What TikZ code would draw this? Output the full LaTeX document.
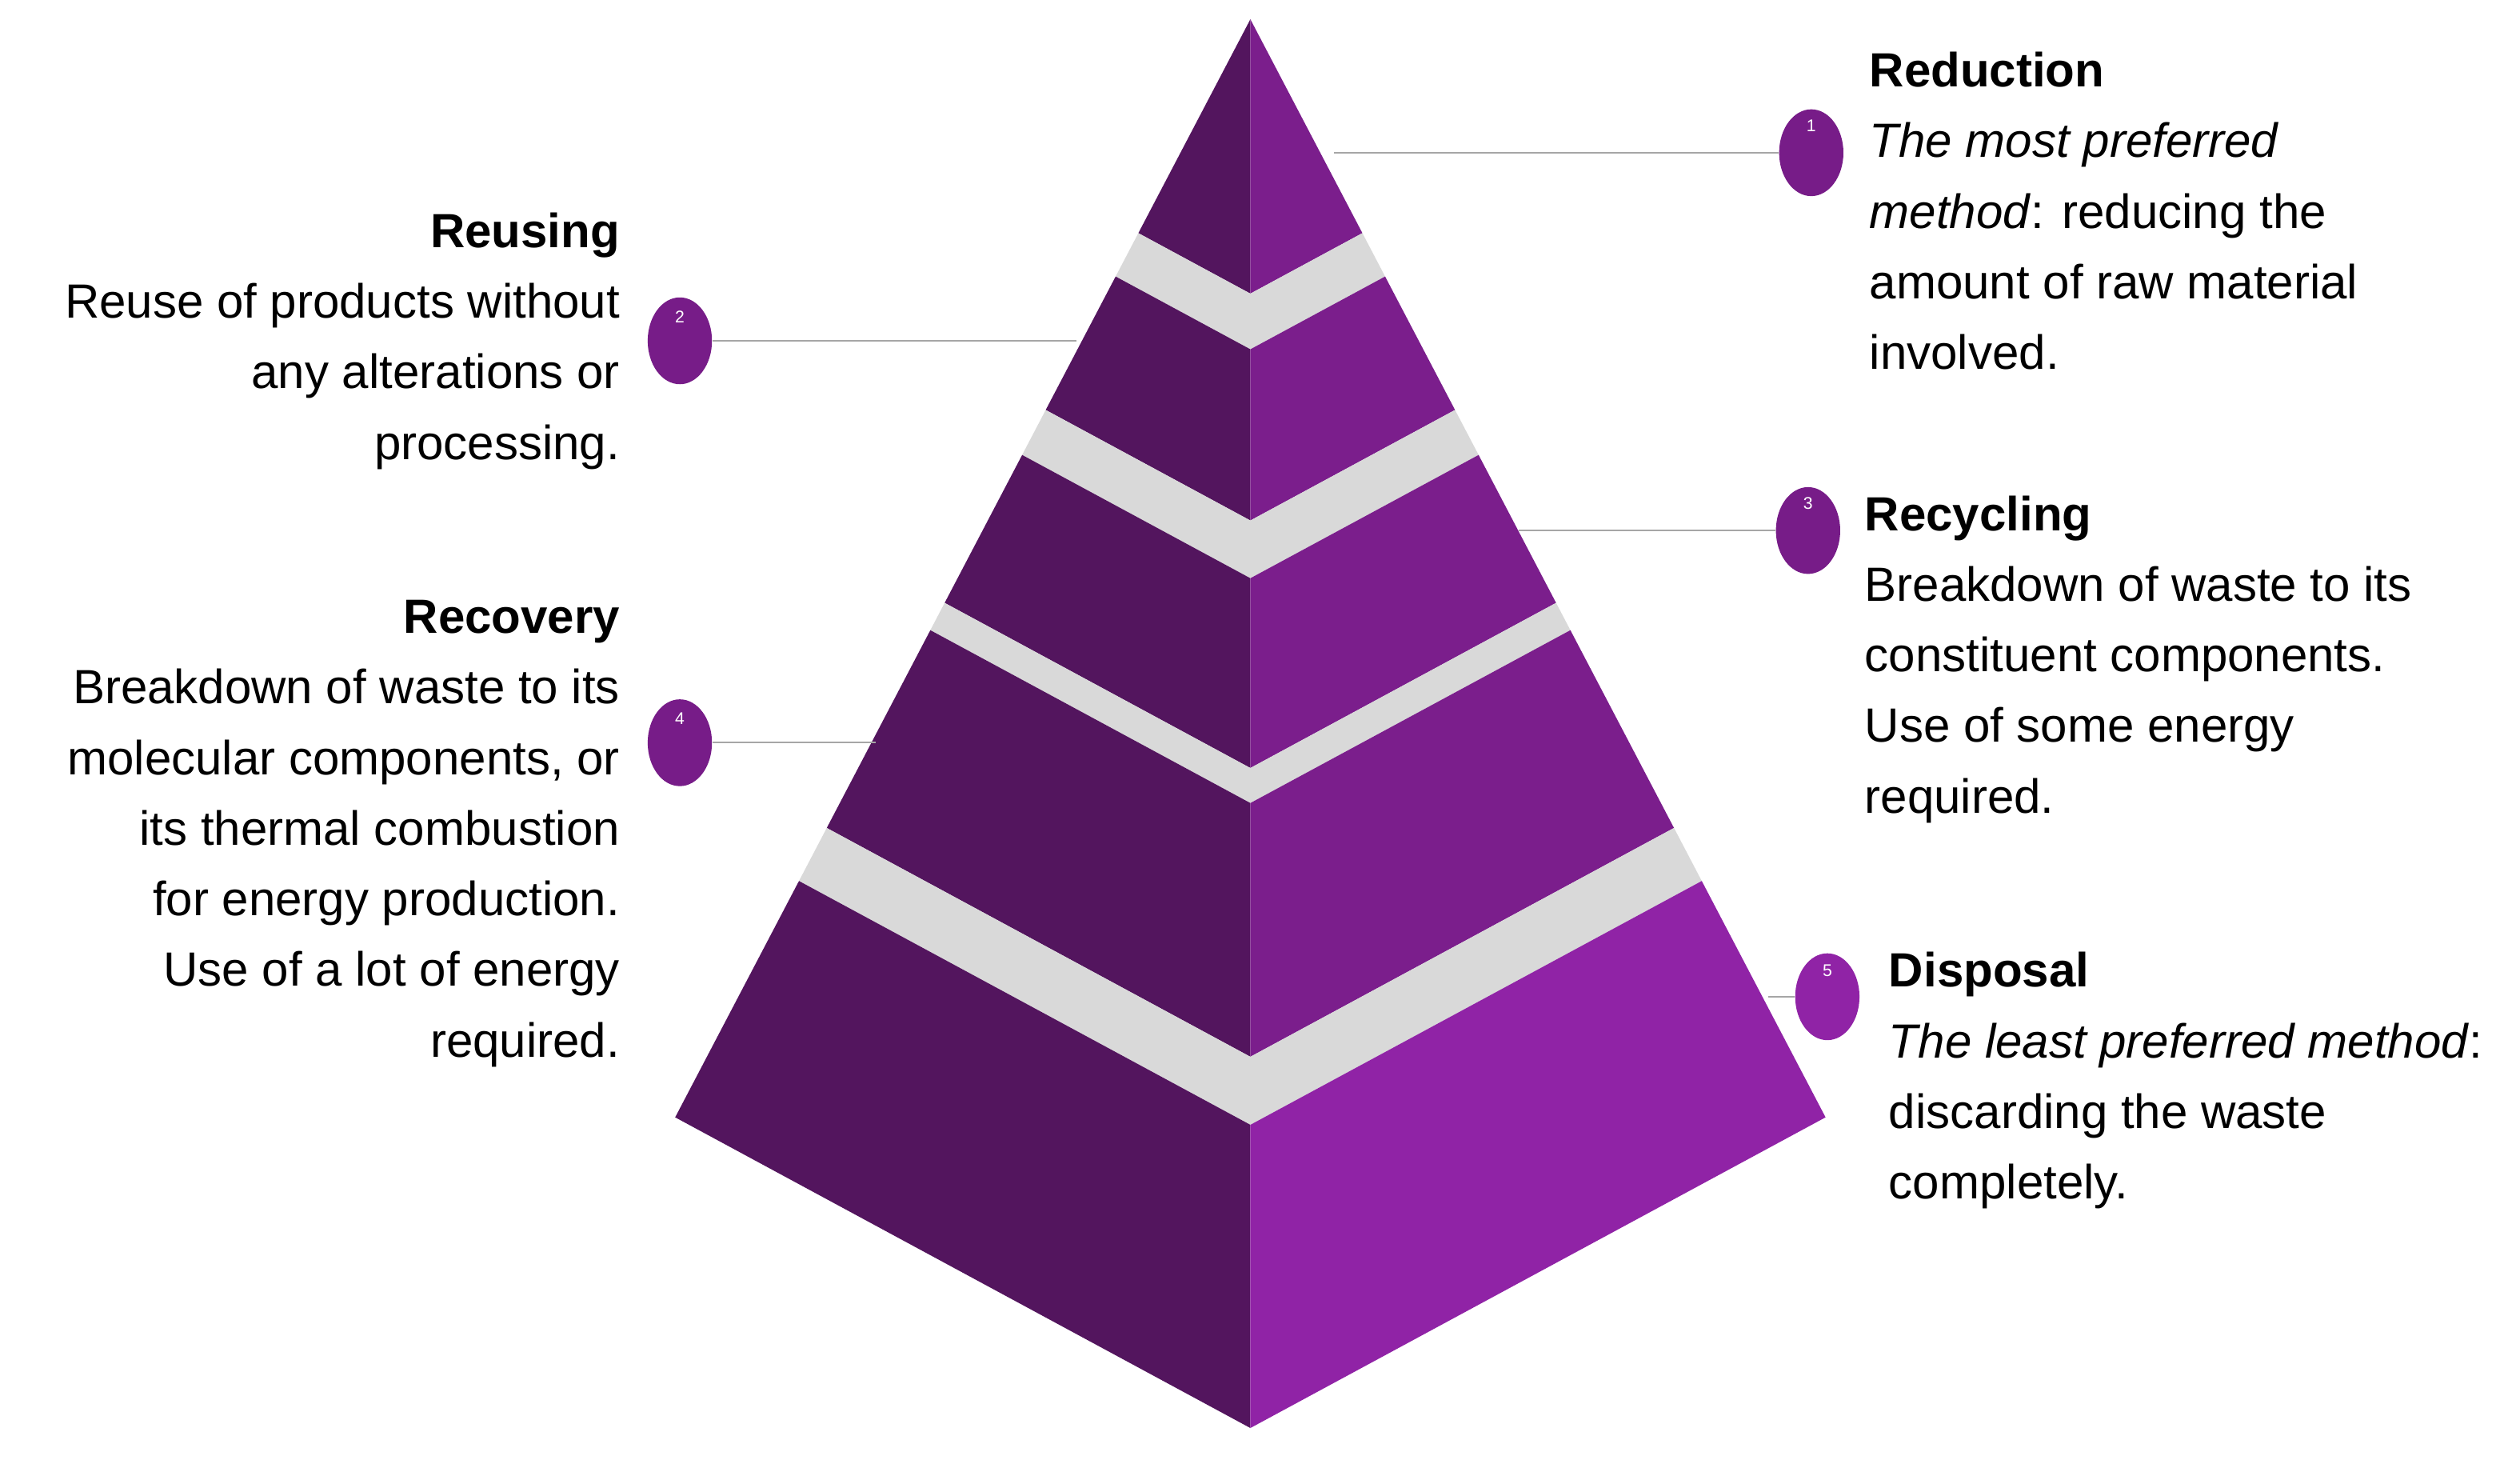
\documentclass[tikz,border=0pt]{standalone}
\usepackage{fontspec}
\usetikzlibrary{shapes.geometric}
\setmainfont{Liberation Sans}
\begin{document}
\definecolor{pdark}{HTML}{53155E}
\definecolor{pmid}{HTML}{7B1E8C}
\definecolor{plight}{HTML}{9023A6}
\definecolor{pgray}{HTML}{D9D9D9}
\definecolor{pcirc}{HTML}{771C88}
\begin{tikzpicture}[x=0.02cm,y=-0.02cm,
  circ/.style={ellipse,fill=pcirc,minimum width=0.8cm,minimum height=1.08cm,inner sep=0},
  num/.style={text=white,font=\fontsize{6}{6}\selectfont,inner sep=0},
  lead/.style={draw=gray!70,line width=0.6pt},
  txt/.style={inner sep=0,font=\fontsize{17}{25}\selectfont}]
\useasboundingbox (0,0) rectangle (1568,908);
\def\k{0.524}\def\d{0.54}
\newcommand\mytier[3]{%
  \pgfmathsetmacro\wt{\k*(#1-12)}\pgfmathsetmacro\wb{\k*(#2-12)}%
  \pgfmathsetmacro\ct{#1+\d*\wt}\pgfmathsetmacro\cb{#2+\d*\wb}%
  \fill[pdark] (778-\wt,#1) -- (778,\ct) -- (778,\cb) -- (778-\wb,#2) -- cycle;
  \fill[#3] (778+\wt,#1) -- (778,\ct) -- (778,\cb) -- (778+\wb,#2) -- cycle;}
\newcommand\myband[2]{%
  \pgfmathsetmacro\wt{\k*(#1-12)}\pgfmathsetmacro\wb{\k*(#2-12)}%
  \pgfmathsetmacro\ct{#1+\d*\wt}\pgfmathsetmacro\cb{#2+\d*\wb}%
  \fill[pgray] (778-\wt,#1) -- (778,\ct) -- (778+\wt,#1) -- (778+\wb,#2) -- (778,\cb) -- (778-\wb,#2) -- cycle;}
\mytier{12}{145}{pmid}
\myband{145}{172}
\mytier{172}{255}{pmid}
\myband{255}{283}
\mytier{283}{375}{pmid}
\myband{375}{392}
\mytier{392}{515}{pmid}
\myband{515}{548}
\mytier{548}{695}{plight}
\node[circ] (c1) at (1127,95) {}; \node[num] at (1127,78) {1};
\node[circ] (c2) at (423,212) {}; \node[num] at (423,197) {2};
\node[circ] (c3) at (1125,330) {}; \node[num] at (1125,313) {3};
\node[circ] (c4) at (423,462) {}; \node[num] at (423,447) {4};
\node[circ,fill=plight] (c5) at (1137,620) {}; \node[num] at (1137,604) {5};
\coordinate (p1) at (830,95);
\coordinate (p2) at (670,212);
\coordinate (p3) at (945,330);
\coordinate (p4) at (545,462);
\coordinate (p5) at (1100,620);
\draw[lead] (p1) -- (c1.west);
\draw[lead] (p2) -- (c2.east);
\draw[lead] (p3) -- (c3.west);
\draw[lead] (p4) -- (c4.east);
\draw[lead] (p5) -- (c5.west);
\node[txt,anchor=north west,align=left] (t1) at (1163,32) {{\bfseries Reduction}\\\textit{The most preferred}\\\textit{method}: reducing the\\amount of raw material\\involved.};
\node[txt,anchor=north west,align=left] (t3) at (1160,308) {{\bfseries Recycling}\\Breakdown of waste to its\\constituent components.\\Use of some energy\\required.};
\node[txt,anchor=north west,align=left] (t5) at (1175,592) {{\bfseries Disposal}\\\textit{The least preferred method}:\\discarding the waste\\completely.};
\node[txt,anchor=north east,align=right] (t2) at (386,132) {{\bfseries Reusing}\\Reuse of products without\\any alterations or\\processing.};
\node[txt,anchor=north east,align=right] (t4) at (386,373) {{\bfseries Recovery}\\Breakdown of waste to its\\molecular components, or\\its thermal combustion\\for energy production.\\Use of a lot of energy\\required.};
\end{tikzpicture}
\end{document}
